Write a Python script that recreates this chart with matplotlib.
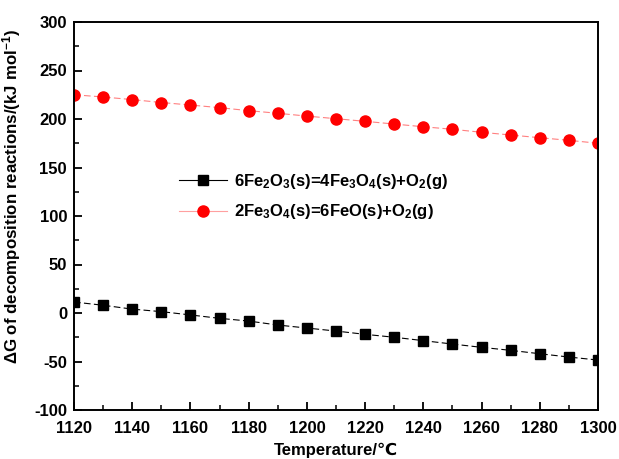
import numpy as np
import matplotlib
matplotlib.use("Agg")
import matplotlib.pyplot as plt
from matplotlib.ticker import MultipleLocator
from matplotlib import font_manager

plt.rcParams['font.family'] = ['Liberation Sans', 'DejaVu Sans']
plt.rcParams['font.weight'] = 'bold'
plt.rcParams['axes.labelweight'] = 'bold'
plt.rcParams['axes.unicode_minus'] = False
plt.rcParams['mathtext.fontset'] = 'custom'
plt.rcParams['mathtext.rm'] = 'Liberation Sans:bold'
plt.rcParams['mathtext.bf'] = 'Liberation Sans:bold'
plt.rcParams['mathtext.it'] = 'Liberation Sans:bold'
plt.rcParams['mathtext.default'] = 'bf'

# temperature (deg C)
temperature = [1120, 1130, 1140, 1150, 1160, 1170, 1180, 1190, 1200, 1210,
               1220, 1230, 1240, 1250, 1260, 1270, 1280, 1290, 1300]

# dG of Fe2O3 -> Fe3O4
dg_fe2o3 = [11.3, 8.0, 4.0, 1.4, -2.0, -5.5, -8.3, -12.4, -15.5, -18.6,
            -22.0, -25.0, -28.5, -32.0, -35.4, -38.5, -42.0, -45.4, -48.5]
# dG of Fe3O4 -> FeO
dg_fe3o4 = [225.0, 222.7, 220.0, 217.0, 214.4, 211.7, 208.6, 205.9, 203.0, 200.3,
            197.6, 194.8, 192.0, 189.4, 186.3, 183.5, 180.7, 178.0, 175.0]

labels = ['6Fe$_2$O$_3$(s)=4Fe$_3$O$_4$(s)+O$_2$(g)',
          '2Fe$_3$O$_4$(s)=6FeO(s)+O$_2$(g)']

xticks = [1120, 1140, 1160, 1180, 1200, 1220, 1240, 1260, 1280, 1300]
yticks = [-100, -50, 0, 50, 100, 150, 200, 250, 300]

fig = plt.figure(figsize=(6.19, 4.59), dpi=100)
ax = fig.add_axes([74/619, 1-410/459, 524/619, 388/459])

ax.plot(temperature, dg_fe2o3, color='black', lw=0.8, ls=(0, (6, 3)),
        marker='s', ms=7, mfc='black', mec='black')
ax.plot(temperature, dg_fe3o4, color='#ff8080', lw=0.8, ls=(0, (6, 3)),
        marker='o', ms=8, mfc='red', mec='red')

# legend with solid handles
h1, = ax.plot([], [], color='black', lw=0.8, marker='s', ms=7)
h2, = ax.plot([], [], color='#ffa0a0', lw=0.8, marker='o', ms=8, mfc='red', mec='red')
bold = font_manager.FontProperties(family=['Liberation Sans', 'DejaVu Sans'], weight='bold', size=12)
ax.legend([h1, h2], labels, loc='center left', bbox_to_anchor=(0.2, 0.55),
          frameon=False, prop=bold, handlelength=2.9, handletextpad=0.4,
          labelspacing=0.7, borderpad=0, borderaxespad=0)

ax.set_xlim(1120, 1300)
ax.set_ylim(-100, 300)
ax.set_xticks(xticks, labels=[str(t) for t in xticks], fontweight='bold', fontsize=12)
ax.set_yticks(yticks, labels=[str(t) for t in yticks], fontweight='bold', fontsize=12)
ax.xaxis.set_minor_locator(MultipleLocator(10))
ax.yaxis.set_minor_locator(MultipleLocator(25))
ax.tick_params(which='both', direction='in', top=False, right=False)
ax.tick_params(which='major', length=6, width=1.3)
ax.tick_params(which='minor', length=3.5, width=1.1)
ax.tick_params(axis='x', which='major', pad=8)
ax.tick_params(axis='y', which='major', pad=5)
for s in ax.spines.values():
    s.set_linewidth(1.4)

ax.set_xlabel('Temperature/\u2103', fontsize=12, fontweight='bold', labelpad=5)
ax.set_ylabel('\u0394G of decomposition reactions/(kJ mol$^{-1}$)', fontsize=12.2,
              fontweight='bold')
ax.yaxis.set_label_coords(-0.097, 0.55)

fig.savefig('out.png', dpi=100)
